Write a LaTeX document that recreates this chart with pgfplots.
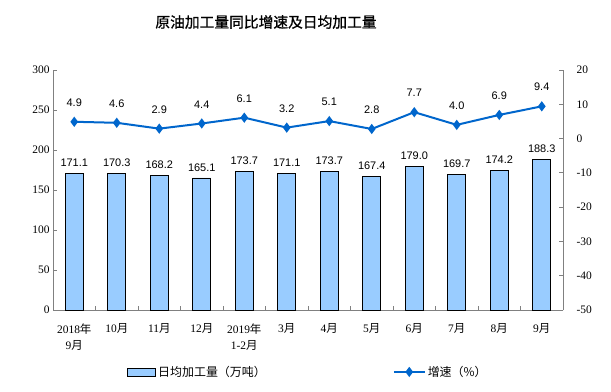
\documentclass[border=0pt]{standalone}
\usepackage{pgfplots}
\pgfplotsset{compat=1.18}
\usepackage{fontspec}
\setmainfont{Liberation Serif}
\newfontfamily\cjk{Noto Sans CJK SC}
\newfontfamily\cjktitle[FakeBold=1]{Noto Sans CJK SC}
\newfontfamily\arial{Liberation Sans}
\definecolor{barblue}{HTML}{99CCFF}
\definecolor{lineblue}{HTML}{0066CC}
\pgfplotsset{/pgf/number format/assume math mode=true,
  barlegend/.style={legend image code/.code={\draw[##1] (0bp,-4bp) rectangle (28bp,4bp);}},
  linelegend/.style={legend image code/.code={\draw[##1,mark=none] (0bp,0bp) -- (31bp,0bp); \draw[##1, only marks] plot coordinates {(15.5bp,0bp)};}},
}
\begin{document}
\begin{tikzpicture}[x=1bp,y=1bp]
\useasboundingbox (0,0) rectangle (611,391);
\node[font=\cjktitle\fontsize{14.8}{16}\selectfont] at (266,369) {原油加工量同比增速及日均加工量};
\begin{axis}[
  at={(53bp,81bp)}, anchor=south west, scale only axis,
  width=510bp, height=240bp,
  xmin=-0.5, xmax=11.5, ymin=0, ymax=300,
  ytick={0,50,...,300},
  axis x line*=bottom, axis y line*=left,
  axis line style={draw=gray, line width=0.8bp},
  tick align=inside, major tick length=4bp, minor tick length=4bp,
  tick style={gray, line width=0.8bp},
  xtick={0,...,11},
  major x tick style={draw=none},
  minor xtick={-0.5,0.5,...,11.5},
  xticklabels={{2018{\cjk 年}\\9{\cjk 月}},{10{\cjk 月}},{11{\cjk 月}},{12{\cjk 月}},{2019{\cjk 年}\\1-2{\cjk 月}},{3{\cjk 月}},{4{\cjk 月}},{5{\cjk 月}},{6{\cjk 月}},{7{\cjk 月}},{8{\cjk 月}},{9{\cjk 月}}},
  xticklabel style={align=center, font=\fontsize{11.5}{16.5}\selectfont, yshift=-10bp},
  yticklabel style={font=\fontsize{11.5}{12}\selectfont},
  legend columns=2,
  legend style={at={(0.5,-0.258)}, anchor=center, draw=none, fill=none,
     font=\cjk\fontsize{12}{14}\selectfont,
     /tikz/every even column/.append style={column sep=125bp}},
]
\addplot[ybar, bar width=18bp, fill=barblue, draw=black, line width=0.8bp,
  barlegend,
  point meta=explicit symbolic, nodes near coords,
  every node near coord/.append style={font=\arial\fontsize{11}{12}\selectfont, yshift=3bp, black}]
coordinates {
(0,171.1) [171.1]
(1,170.3) [170.3]
(2,168.2) [168.2]
(3,165.1) [165.1]
(4,173.7) [173.7]
(5,171.1) [171.1]
(6,173.7) [173.7]
(7,167.4) [167.4]
(8,179.0) [179.0]
(9,169.7) [169.7]
(10,174.2) [174.2]
(11,188.3) [188.3]
};
\addlegendentry{日均加工量（万吨）}
\addlegendimage{lineblue, line width=2bp, mark=diamond*, mark size=3.5bp, linelegend}
\addlegendentry{增速（\%）}
\end{axis}
\begin{axis}[
  at={(53bp,81bp)}, anchor=south west, scale only axis,
  width=510bp, height=240bp,
  xmin=-0.5, xmax=11.5, ymin=-50, ymax=20,
  ytick={-50,-40,...,20},
  yticklabels={-50,-40,-30,-20,-10,0,10,20},
  axis x line=none, axis y line*=right,
  axis line style={draw=gray, line width=0.8bp},
  tick align=inside, major tick length=4bp,
  tick style={gray, line width=0.8bp},
  yticklabel style={font=\fontsize{11.5}{12}\selectfont, anchor=west, xshift=10bp},
]
\addplot[lineblue, line width=2bp, mark=diamond*, mark size=3.5bp,
  point meta=explicit symbolic, nodes near coords,
  every node near coord/.append style={font=\arial\fontsize{11}{12}\selectfont, yshift=11bp, black}]
coordinates {
(0,4.9) [4.9]
(1,4.6) [4.6]
(2,2.9) [2.9]
(3,4.4) [4.4]
(4,6.1) [6.1]
(5,3.2) [3.2]
(6,5.1) [5.1]
(7,2.8) [2.8]
(8,7.7) [7.7]
(9,4.0) [4.0]
(10,6.9) [6.9]
(11,9.4) [9.4]
};
\end{axis}
\end{tikzpicture}
\end{document}
